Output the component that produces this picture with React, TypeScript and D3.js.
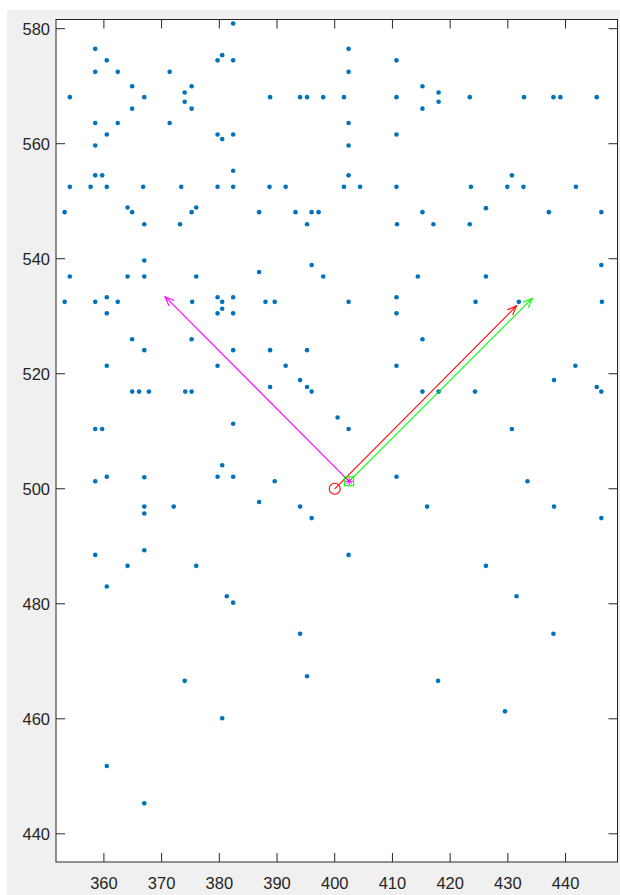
import React from "react";
import * as d3 from "d3";

// Scatter sample positions
const pointX = [
  382.4, 358.5, 360.5, 358.5, 362.4, 371.4, 379.7, 380.5, 382.4, 364.9,
  375.2, 354.1, 367.0, 374.0, 374.0, 364.9, 375.2, 358.5, 362.4, 371.4,
  360.5, 379.7, 380.5, 382.4, 358.5, 382.4, 358.5, 359.7, 354.1, 357.7,
  360.5, 366.8, 373.4, 379.7, 382.4, 353.2, 364.1, 364.9, 375.2, 376.0,
  402.4, 410.7, 402.4, 415.2, 388.8, 394.0, 395.2, 398.0, 401.6, 410.7,
  415.2, 402.4, 410.7, 402.4, 402.4, 388.7, 391.5, 401.6, 404.4, 410.7,
  386.9, 393.2, 396.0, 397.2, 415.2,
  418.0, 418.0, 423.4, 432.8, 437.9, 439.1, 445.4, 430.7, 423.6, 429.9,
  432.7, 441.8, 426.2, 437.1, 446.2,
  367.0, 373.2, 367.0, 354.1, 364.1, 367.0, 376.0, 353.2, 358.5, 360.5,
  362.4, 375.3, 379.7, 380.5, 380.5, 382.4, 360.5, 379.7, 382.4, 364.9,
  375.2, 367.0, 382.4, 360.5, 379.7, 364.9, 366.1, 367.8, 374.1, 375.2,
  395.2, 410.8, 396.0, 386.9, 398.0, 414.4, 388.0, 389.6, 402.4, 410.7,
  410.7, 415.2, 388.8, 395.2, 391.5, 410.7, 394.0, 388.8, 395.2, 396.0,
  415.2,
  417.1, 423.4, 446.2, 426.2, 424.4, 431.9, 446.3, 441.7, 438.0, 418.0,
  424.3, 445.4, 446.2,
  358.5, 359.7, 382.4, 380.5, 360.5, 358.5, 367.0, 379.7, 382.4, 367.0,
  367.0, 372.1, 367.0, 358.5, 364.1, 376.0, 360.5, 381.3, 382.4,
  400.5, 402.4, 389.6, 410.7, 386.9, 394.0, 396.0, 416.0, 402.4,
  430.7, 433.4, 438.0, 446.2, 426.2, 431.5,
  394.0, 437.9, 374.0, 395.2, 417.9, 380.5, 429.5, 360.5, 367.0,
];
const pointY = [
  580.9, 576.5, 574.5, 572.5, 572.5, 572.5, 574.5, 575.4, 574.5, 570.0,
  570.0, 568.1, 568.1, 568.9, 567.3, 566.1, 566.1, 563.6, 563.6, 563.6,
  561.6, 561.6, 560.8, 561.6, 559.7, 555.3, 554.5, 554.5, 552.5, 552.5,
  552.5, 552.5, 552.5, 552.5, 552.5, 548.1, 548.9, 548.1, 548.1, 548.9,
  576.5, 574.5, 572.5, 570.0, 568.1, 568.1, 568.1, 568.1, 568.1, 568.1,
  566.1, 563.6, 561.6, 559.7, 554.5, 552.5, 552.5, 552.5, 552.5, 552.5,
  548.1, 548.1, 548.1, 548.1, 548.1,
  568.9, 567.3, 568.1, 568.1, 568.1, 568.1, 568.1, 554.5, 552.5, 552.5,
  552.5, 552.5, 548.8, 548.1, 548.1,
  546.0, 546.0, 539.7, 536.9, 536.9, 536.9, 536.9, 532.5, 532.5, 533.3,
  532.5, 532.5, 533.3, 532.5, 531.3, 533.3, 530.5, 530.5, 530.5, 526.0,
  526.0, 524.1, 524.1, 521.4, 521.4, 516.9, 516.9, 516.9, 516.9, 516.9,
  546.0, 546.0, 538.9, 537.7, 536.9, 536.9, 532.5, 532.5, 532.5, 533.3,
  530.5, 526.0, 524.1, 524.1, 521.4, 521.4, 518.9, 517.7, 517.7, 516.9,
  516.9,
  546.0, 546.0, 538.9, 536.9, 532.5, 532.5, 532.5, 521.4, 518.9, 516.9,
  516.9, 517.7, 516.9,
  510.4, 510.4, 511.3, 504.1, 502.1, 501.3, 502.0, 502.1, 502.1, 496.9,
  495.7, 496.9, 489.3, 488.5, 486.6, 486.6, 483.0, 481.3, 480.2,
  512.4, 510.4, 501.3, 502.1, 497.7, 496.9, 494.9, 496.9, 488.5,
  510.4, 501.3, 496.9, 494.9, 486.6, 481.3,
  474.8, 474.8, 466.6, 467.4, 466.6, 460.1, 461.3, 451.8, 445.3,
];

// Reference position and the direction vectors drawn from it
const circleAt = [400, 500];
const squareAt = [402.5, 501.3];
const arrowNames = ["magenta", "red", "green"];
const arrowColors = ["#ff00ff", "#ff0000", "#00ff00"];
const arrowFromX = [402.5, 400.0, 402.5];
const arrowFromY = [501.3, 500.0, 501.3];
const arrowToX = [370.6, 431.5, 434.2];
const arrowToY = [533.4, 531.8, 533.1];

const xTicks = [360, 370, 380, 390, 400, 410, 420, 430, 440];
const yTicks = [440, 460, 480, 500, 520, 540, 560, 580];

const W = 620;
const H = 895;
const L = 56;
const R = 617.5;
const T = 19.5;
const B = 862;

export default function App() {
  const x = d3.scaleLinear().domain([351.7, 449.0]).range([L, R]);
  const y = d3.scaleLinear().domain([435.1, 581.6]).range([B, T]);
  const axisColor = "#262626";
  const tickLen = 9;
  const font = "'Liberation Sans', Arial, Helvetica, sans-serif";

  const arrowHead = (x1: number, y1: number, x2: number, y2: number) => {
    const ang = Math.atan2(y2 - y1, x2 - x1);
    const len = 10;
    const spread = (22 * Math.PI) / 180;
    const a1 = ang + Math.PI - spread;
    const a2 = ang + Math.PI + spread;
    return `M${x2 + len * Math.cos(a1)},${y2 + len * Math.sin(a1)}L${x2},${y2}L${
      x2 + len * Math.cos(a2)
    },${y2 + len * Math.sin(a2)}`;
  };

  const sx = x(squareAt[0]);
  const sy = y(squareAt[1]);
  const starR = 4;

  return (
    <svg
      width={W}
      height={H}
      style={{ position: "absolute", left: 0, top: 0, display: "block" }}
    >
      <rect x={0} y={0} width={W} height={H} fill="#ffffff" />
      <rect x={7} y={10} width={W - 7} height={H - 10} fill="#f0f0f0" />
      <rect x={L} y={T} width={R - L} height={B - T} fill="#ffffff" />

      {/* scatter points */}
      <g>
        {pointX.map((px, i) => (
          <circle key={i} cx={x(px)} cy={y(pointY[i])} r={2.3} fill="#0072bd" />
        ))}
      </g>

      {/* direction arrows */}
      <g fill="none" strokeWidth={1.1}>
        {arrowNames.map((name, i) => {
          const x1 = x(arrowFromX[i]);
          const y1 = y(arrowFromY[i]);
          const x2 = x(arrowToX[i]);
          const y2 = y(arrowToY[i]);
          return (
            <g key={name} stroke={arrowColors[i]}>
              <line x1={x1} y1={y1} x2={x2} y2={y2} />
              <path d={arrowHead(x1, y1, x2, y2)} />
            </g>
          );
        })}
      </g>

      {/* markers */}
      <circle
        cx={x(circleAt[0])}
        cy={y(circleAt[1])}
        r={5.5}
        fill="none"
        stroke="#ff0000"
        strokeWidth={1.1}
      />
      <rect
        x={sx - 4.5}
        y={sy - 4.5}
        width={9}
        height={9}
        fill="none"
        stroke="#00ff00"
        strokeWidth={1.1}
      />
      <g stroke="#ff00ff" strokeWidth={1}>
        <line x1={sx - starR} y1={sy} x2={sx + starR} y2={sy} />
        <line x1={sx} y1={sy - starR} x2={sx} y2={sy + starR} />
        <line x1={sx - starR * 0.7} y1={sy - starR * 0.7} x2={sx + starR * 0.7} y2={sy + starR * 0.7} />
        <line x1={sx - starR * 0.7} y1={sy + starR * 0.7} x2={sx + starR * 0.7} y2={sy - starR * 0.7} />
      </g>

      {/* axes box and ticks */}
      <g stroke={axisColor} strokeWidth={1}>
        <rect x={L} y={T} width={R - L} height={B - T} fill="none" />
        {xTicks.map((t) => (
          <g key={"x" + t}>
            <line x1={x(t)} x2={x(t)} y1={B} y2={B - tickLen} />
            <line x1={x(t)} x2={x(t)} y1={T} y2={T + tickLen} />
          </g>
        ))}
        {yTicks.map((t) => (
          <g key={"y" + t}>
            <line x1={L} x2={L + tickLen} y1={y(t)} y2={y(t)} />
            <line x1={R} x2={R - tickLen} y1={y(t)} y2={y(t)} />
          </g>
        ))}
      </g>

      <g fill={axisColor} fontFamily={font} fontSize={16.5}>
        {xTicks.map((t) => (
          <text key={"xl" + t} x={x(t)} y={889} textAnchor="middle">
            {t}
          </text>
        ))}
        {yTicks.map((t) => (
          <text key={"yl" + t} x={L - 6} y={y(t) + 6} textAnchor="end">
            {t}
          </text>
        ))}
      </g>
    </svg>
  );
}
